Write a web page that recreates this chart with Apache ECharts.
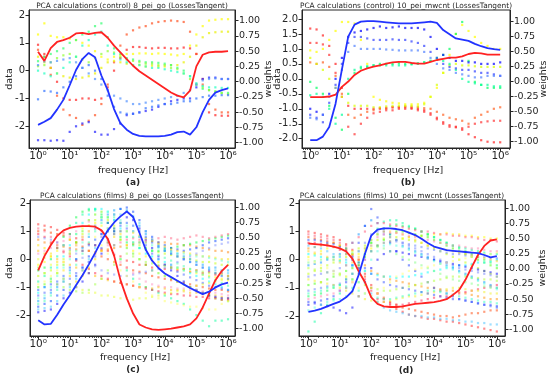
<!DOCTYPE html>
<html><head><meta charset="utf-8">
<script src="https://cdn.jsdelivr.net/npm/echarts@6/dist/echarts.min.js"></script>
<style>html,body{margin:0;padding:0;background:#fff}#c{width:550px;height:380px}</style>
</head><body><div id="c"></div>
<script>
// frequency grid as log10(f [Hz])
const FREQ_EXP = [0,0.2,0.4,0.6,0.8,1,1.2,1.4,1.6,1.8,2,2.2,2.4,2.6,2.8,3,3.2,3.4,3.6,3.8,4,4.2,4.4,4.6,4.8,5,5.2,5.4,5.6,5.8,6];
const X_TICKS = [0,1,2,3,4,5,6];
const SUP = ['⁰','¹','²','³','⁴','⁵','⁶'];
const DATA_TICKS_INT = [-2,-1,0,1,2];
const DATA_TICKS_HALF = [-2,-1.5,-1,-0.5,0,0.5,1,1.5,2];
const WEIGHT_TICKS = [-1,-0.75,-0.5,-0.25,0,0.25,0.5,0.75,1];
const TITLES = [
  'PCA calculations (control) 8_pei_go (LossesTangent)',
  'PCA calculations (control) 10_pei_mwcnt (LossesTangent)',
  'PCA calculations (films) 8_pei_go (LossesTangent)',
  'PCA calculations (films) 10_pei_mwcnt (LossesTangent)'
];
const PANEL_TAGS = ['(a)','(b)','(c)','(d)'];

// weights (right axis): red and blue lines
const A_RED  = [0.49,0.34,0.55,0.65,0.68,0.72,0.79,0.80,0.78,0.80,0.81,0.72,0.59,0.48,0.37,0.26,0.17,0.10,0.03,-0.04,-0.11,-0.18,-0.23,-0.26,-0.15,0.25,0.44,0.48,0.49,0.49,0.50];
const A_BLUE = [-0.71,-0.66,-0.60,-0.46,-0.30,-0.06,0.19,0.37,0.47,0.40,0.10,-0.14,-0.45,-0.68,-0.79,-0.86,-0.89,-0.90,-0.90,-0.90,-0.89,-0.87,-0.83,-0.82,-0.87,-0.75,-0.50,-0.30,-0.18,-0.14,-0.11];
const B_RED  = [-0.26,-0.26,-0.26,-0.25,-0.22,-0.09,0.0,0.11,0.18,0.22,0.25,0.27,0.30,0.32,0.33,0.33,0.31,0.30,0.30,0.33,0.36,0.38,0.40,0.40,0.42,0.46,0.48,0.47,0.45,0.45,0.45];
const B_BLUE = [-0.98,-0.98,-0.92,-0.76,-0.37,0.20,0.75,0.95,1.00,1.01,1.01,1.00,0.99,0.98,0.97,0.97,0.97,0.98,0.99,1.00,0.98,0.86,0.79,0.72,0.70,0.68,0.63,0.59,0.56,0.54,0.53];
const C_RED  = [-0.04,0.20,0.38,0.53,0.62,0.66,0.68,0.69,0.69,0.68,0.62,0.48,0.20,-0.20,-0.50,-0.75,-0.93,-0.98,-1.01,-1.02,-1.01,-1.00,-0.98,-0.96,-0.93,-0.83,-0.65,-0.42,-0.20,-0.05,0.05];
const C_BLUE = [-0.86,-0.93,-0.92,-0.77,-0.60,-0.45,-0.28,-0.12,0.06,0.25,0.45,0.62,0.75,0.85,0.93,0.84,0.58,0.30,0.12,0.00,-0.09,-0.15,-0.21,-0.27,-0.33,-0.38,-0.43,-0.39,-0.32,-0.27,-0.24];
const D_RED  = [0.42,0.41,0.40,0.39,0.37,0.34,0.29,0.17,-0.04,-0.22,-0.47,-0.58,-0.62,-0.63,-0.63,-0.62,-0.60,-0.58,-0.57,-0.56,-0.55,-0.53,-0.50,-0.43,-0.35,-0.18,0.03,0.23,0.38,0.47,0.49];
const D_BLUE = [-0.71,-0.69,-0.66,-0.62,-0.58,-0.54,-0.47,-0.37,-0.10,0.25,0.55,0.65,0.67,0.67,0.66,0.64,0.60,0.56,0.50,0.43,0.37,0.34,0.31,0.30,0.29,0.28,0.27,0.26,0.23,0.19,0.21];

// data (left axis): scatter rows
const A_PT_COLORS = ['#ff2020','#ff5020','#ffff00','#e8f000','#30ff70','#90ff30','#20ffc0','#2020ff','#3070ff','#5090ff'];
const A_PTS = [
 [0.93,0.6,0.1,-0.4,-1.0,-1.05,-1.05,-1.0,-1.0,-1.05,-1.0,-0.6,0.0,0.45,0.75,0.85,0.85,0.82,0.8,0.82,0.82,0.8,0.8,0.83,0.8,0.6,-0.3,-1.5,-1.6,-1.62,-1.62],
 [0.75,0.5,-0.15,-0.9,-1.4,-1.6,-1.7,-1.95,-1.8,-1.6,-1.2,-0.5,0.3,0.9,1.3,1.45,1.55,1.6,1.7,1.75,1.78,1.8,1.78,1.75,1.4,0.6,-0.5,-1.2,-1.4,-1.5,-1.5],
 [1.3,1.7,1.25,1.2,1.2,1.15,1.1,1.0,0.9,0.7,0.5,0.4,0.5,0.55,0.6,0.6,0.62,0.62,0.6,0.62,0.6,0.58,0.55,0.6,0.9,1.3,1.6,1.8,1.83,1.85,1.85],
 [0.5,0.3,0.1,-0.1,-0.2,-0.25,-0.3,-0.25,-0.2,-0.1,0.1,0.3,0.35,0.3,0.25,0.2,0.2,0.15,0.18,0.15,0.15,0.2,0.2,0.3,0.5,0.9,1.2,1.35,1.38,1.4,1.4],
 [0.34,0.5,0.6,0.7,0.8,1.0,1.1,1.3,1.4,1.6,1.7,1.2,0.8,0.6,0.45,0.4,0.35,0.3,0.3,0.28,0.25,0.2,0.1,0.0,-0.2,-0.5,-0.65,-0.7,-0.75,-0.8,-0.8],
 [0.16,0.2,0.3,0.45,0.55,0.6,0.5,0.4,0.3,0.45,0.6,0.7,0.65,0.5,0.4,0.35,0.3,0.25,0.25,0.2,0.2,0.1,0.05,-0.1,-0.3,-0.5,-0.6,-0.7,-0.75,-0.8,-0.85],
 [0.0,-0.1,-0.2,-0.1,0.1,0.3,0.5,0.9,1.1,1.3,1.4,0.9,0.6,0.4,0.3,0.2,0.2,0.15,0.1,0.1,0.05,0.0,-0.05,-0.1,-0.2,-0.45,-0.55,-0.6,-0.6,-0.62,-0.62],
 [-2.5,-2.5,-2.52,-2.5,-2.52,-2.2,-2.0,-1.9,-1.85,-2.2,-2.3,-2.3,-2.1,-1.9,-1.6,-1.55,-1.5,-1.45,-1.4,-1.3,-1.2,-1.1,-1.05,-1.0,-1.0,-0.6,-0.3,-0.25,-0.25,-0.3,-0.3],
 [-1.03,-0.73,-0.75,-0.8,-0.6,-0.4,-0.2,0.1,0.2,0.0,-0.3,-0.9,-1.3,-1.5,-1.55,-1.55,-1.5,-1.35,-1.3,-1.25,-1.2,-1.2,-1.15,-1.1,-1.1,-1.0,-0.95,-0.9,-0.9,-0.88,-0.88],
 [0.2,0.33,0.3,0.35,0.4,0.45,0.3,0.1,-0.1,-0.3,-0.5,-0.7,-0.9,-1.0,-1.1,-1.2,-1.2,-1.15,-1.1,-1.05,-1.0,-0.95,-0.9,-0.8,-0.7,-0.5,-0.35,-0.3,-0.28,-0.3,-0.3]
];
const B_PT_COLORS = ['#ff2020','#ff3030','#ff6020','#ffff00','#d8ff00','#00ff60','#00ff99','#0000ff','#3040ff','#5080ff'];
const B_PTS = [
 [1.68,1.65,1.45,1.1,0.5,-0.3,-0.9,-1.0,-1.0,-1.0,-1.0,-0.98,-0.97,-0.95,-0.95,-0.95,-0.97,-1.0,-1.05,-1.15,-1.3,-1.45,-1.55,-1.6,-1.7,-1.85,-1.95,-2.05,-2.1,-2.12,-2.12],
 [1.2,1.2,1.15,0.8,0.2,-0.6,-1.6,-1.85,-1.5,-1.3,-1.15,-1.1,-1.05,-1.05,-1.0,-1.0,-1.0,-1.05,-1.1,-1.2,-1.35,-1.5,-1.6,-1.62,-1.65,-1.6,-1.5,-1.45,-1.42,-1.4,-1.4],
 [0.55,0.5,0.55,0.4,0.1,-0.5,-1.2,-1.3,-1.2,-1.1,-1.05,-1.0,-1.0,-0.95,-0.95,-0.92,-0.93,-0.95,-0.98,-1.0,-1.1,-1.2,-1.3,-1.35,-1.4,-1.5,-1.3,-1.2,-1.1,-1.0,-0.95],
 [0.95,0.9,1.0,1.3,1.6,1.9,1.9,1.85,1.3,0.5,-0.6,-0.7,-0.75,-0.8,-0.82,-0.85,-0.85,-0.85,-0.8,-0.6,-0.3,0.2,0.8,1.5,1.8,1.6,1.4,1.2,1.1,1.0,1.0],
 [0.7,0.5,0.3,0.0,-0.3,-0.6,-0.8,-0.9,-0.9,-0.9,-0.95,-0.95,-0.92,-0.9,-0.9,-0.9,-0.9,-0.92,-0.85,-0.6,-0.2,0.2,0.45,0.5,0.45,0.45,0.42,0.4,0.4,0.4,0.4],
 [-0.1,-0.3,-0.5,-0.9,-1.3,-1.7,-0.5,0.2,0.35,0.4,0.45,0.5,0.5,0.5,0.52,0.5,0.5,0.52,0.55,0.6,0.7,0.8,1.0,1.5,1.9,0.6,-0.1,-0.2,-0.3,-0.3,-0.3],
 [-0.55,-0.5,-0.6,-1.0,-1.5,-1.2,0.0,0.3,0.4,0.42,0.45,0.45,0.45,0.45,0.45,0.45,0.48,0.5,0.55,0.6,0.65,0.6,0.5,0.3,0.0,-0.1,-0.15,-0.2,-0.2,-0.25,-0.25],
 [-1.0,-1.1,-1.2,-0.5,0.0,0.7,1.4,1.55,1.6,1.65,1.7,1.75,1.7,1.72,1.75,1.7,1.7,1.7,1.65,1.4,1.0,0.8,0.7,0.6,0.6,0.55,0.55,0.5,0.5,0.5,0.55],
 [-1.2,-1.3,-1.45,-0.8,-0.2,0.5,1.2,1.4,1.4,1.35,1.3,1.3,1.3,1.32,1.3,1.3,1.25,1.2,1.1,0.9,0.7,0.5,0.4,0.35,0.3,0.3,0.25,0.2,0.2,0.15,0.1],
 [-1.3,-1.35,-1.2,-0.6,-0.3,0.3,0.9,1.1,1.0,1.0,1.0,1.0,0.98,0.97,0.95,0.95,0.95,0.95,0.9,0.7,0.5,0.35,0.3,0.2,0.15,0.1,0.05,0.05,0.1,0.1,0.1]
];
const C_PT_COLORS = ['#ff2020','#ff4000','#ff8000','#ffc000','#ffff00','#c0ff00','#60ff00','#00ff40','#00ff99','#00ffff','#00a0ff','#0040ff','#0000ff','#4060ff','#ff2040','#e8ff30',
                     '#ff6080','#ffe000','#a0ff40','#40ffb0','#40d0ff','#8090ff','#ff90c0','#ffff60','#60ffd0','#2060ff'];
const C_PTS = [
 [1.25,1.2,1.15,1.05,0.95,0.9,0.75,0.7,0.55,0.5,0.35,0.3,0.15,0.1,-0.05,-0.1,-0.2,-0.2,-0.3,-0.25,-0.35,-0.3,-0.4,-0.35,-0.45,-0.4,-0.5,-0.45,-0.55,-0.5,-0.6],
 [1.0,1.05,0.95,0.9,0.85,0.7,0.6,0.45,0.3,0.2,0.1,0.0,-0.1,-0.2,-0.3,-0.4,-0.45,-0.5,-0.6,-0.65,-0.7,-0.75,-0.8,-0.85,-0.9,-0.95,-1.0,-1.05,-1.1,-1.1,-1.15],
 [0.7,0.6,0.55,0.5,0.45,0.4,0.35,0.3,0.3,0.25,0.3,0.35,0.4,0.45,0.5,0.55,0.6,0.6,0.65,0.6,0.6,0.55,0.55,0.5,0.5,0.45,0.4,0.35,0.3,0.3,0.25],
 [0.3,0.2,0.1,0.0,-0.1,-0.2,-0.3,-0.4,-0.5,-0.6,-0.7,-0.75,-0.8,-0.85,-0.9,-0.95,-1.0,-1.0,-1.05,-1.0,-1.05,-1.1,-1.1,-1.15,-1.2,-1.2,-1.25,-1.3,-1.3,-1.35,-1.4],
 [-0.2,-0.1,0.1,0.3,0.5,0.7,0.9,1.1,1.2,1.3,1.2,1.1,0.9,0.7,0.5,0.3,0.2,0.1,0.0,-0.1,-0.2,-0.3,-0.35,-0.4,-0.45,-0.5,-0.55,-0.6,-0.65,-0.7,-0.75],
 [-0.6,-0.5,-0.4,-0.2,0.0,0.3,0.6,0.9,1.2,1.4,1.5,1.4,1.2,1.0,0.8,0.6,0.5,0.4,0.3,0.25,0.2,0.15,0.1,0.05,0.0,-0.05,-0.1,-0.1,-0.15,-0.2,-0.2],
 [-1.0,-0.9,-0.8,-0.5,-0.2,0.2,0.6,1.0,1.4,1.6,1.7,1.5,1.1,0.7,0.4,0.2,0.0,-0.2,-0.4,-0.5,-0.6,-0.7,-0.8,-0.9,-1.0,-1.1,-1.2,-1.3,-1.4,-1.45,-1.5],
 [-0.4,-0.3,0.0,0.4,0.8,1.2,1.5,1.7,1.75,1.8,1.6,1.3,1.0,0.8,0.6,0.5,0.4,0.35,0.3,0.3,0.35,0.4,0.45,0.5,0.55,0.6,0.65,0.7,0.75,0.8,0.85],
 [-0.8,-0.6,-0.3,0.1,0.5,0.9,1.3,1.6,1.8,1.75,1.5,1.0,0.5,0.0,-0.4,-0.7,-0.9,-1.0,-1.1,-1.2,-1.3,-1.4,-1.5,-1.6,-1.8,-2.0,-2.2,-2.4,-2.2,-2.2,-2.15],
 [-1.2,-1.0,-0.7,-0.3,0.1,0.5,0.9,1.3,1.6,1.8,1.8,1.7,1.4,1.1,0.8,0.6,0.4,0.2,0.1,0.0,-0.1,-0.2,-0.3,-0.4,-0.5,-0.6,-0.7,-0.8,-0.9,-1.0,-1.1],
 [-1.5,-1.4,-1.2,-1.0,-0.7,-0.4,0.0,0.4,0.8,1.1,1.4,1.6,1.75,1.8,1.75,1.5,1.2,0.9,0.7,0.5,0.4,0.3,0.2,0.1,0.0,-0.1,-0.2,-0.3,-0.3,-0.4,-0.4],
 [-1.7,-1.6,-1.5,-1.3,-1.1,-0.9,-0.6,-0.3,0.1,0.5,0.9,1.3,1.6,1.8,1.85,1.7,1.4,1.0,0.8,0.6,0.5,0.4,0.35,0.3,0.35,0.4,0.5,0.6,0.65,0.7,0.75],
 [-1.9,-1.85,-1.8,-1.6,-1.4,-1.2,-1.0,-0.8,-0.5,-0.2,0.2,0.6,1.0,1.3,1.5,1.4,1.1,0.7,0.4,0.1,-0.2,-0.4,-0.6,-0.8,-1.0,-1.1,-1.2,-1.3,-1.35,-1.4,-1.4],
 [-1.3,-1.2,-1.1,-0.9,-0.8,-0.7,-0.5,-0.3,-0.1,0.1,0.4,0.7,0.9,1.0,1.1,1.0,0.8,0.5,0.2,0.0,-0.2,-0.3,-0.45,-0.55,-0.65,-0.75,-0.85,-0.95,-1.0,-1.05,-1.1],
 [0.9,0.8,0.6,0.4,0.25,0.1,-0.05,-0.2,-0.35,-0.5,-0.6,-0.7,-0.8,-0.85,-0.9,-0.95,-1.0,-1.05,-1.1,-1.15,-1.2,-1.25,-1.25,-1.3,-1.3,-1.35,-1.35,-1.4,-1.4,-1.45,-1.45],
 [0.0,0.05,-0.2,-0.5,-0.7,-0.9,-1.0,-1.1,-1.2,-1.2,-1.3,-1.3,-1.35,-1.4,-1.4,-1.45,-1.4,-1.4,-1.35,-1.3,-1.25,-1.2,-1.15,-1.1,-1.0,-0.95,-0.9,-0.85,-0.8,-0.75,-0.7],
 [1.1,1.0,0.8,0.6,0.3,0.2,0.5,0.8,1.0,1.2,1.0,0.7,0.5,0.6,0.7,0.75,0.7,0.65,0.7,0.75,0.8,0.75,0.7,0.75,0.8,0.85,0.8,0.75,0.8,0.85,0.9],
 [0.5,0.4,0.2,-0.1,-0.4,-0.6,-0.8,-0.6,-0.3,0.0,0.3,0.6,0.8,0.9,1.0,0.95,0.85,0.75,0.65,0.55,0.45,0.35,0.3,0.25,0.2,0.15,0.1,0.1,0.05,0.0,0.0],
 [-0.3,-0.5,-0.7,-0.9,-1.0,-1.1,-1.15,-1.2,-1.1,-0.9,-0.7,-0.4,-0.2,0.0,0.2,0.1,0.0,-0.1,-0.15,-0.2,-0.25,-0.3,-0.3,-0.35,-0.35,-0.4,-0.45,-0.5,-0.5,-0.55,-0.6],
 [-1.6,-1.5,-1.3,-1.1,-0.8,-0.5,-0.2,0.2,0.6,1.0,1.3,1.5,1.5,1.3,1.0,0.8,0.6,0.4,0.3,0.15,0.05,-0.05,-0.15,-0.25,-0.35,-0.45,-0.55,-0.65,-0.75,-0.85,-0.95],
 [-1.8,-1.75,-1.7,-1.5,-1.3,-1.0,-0.7,-0.4,0.0,0.4,0.8,1.1,1.4,1.6,1.7,1.55,1.3,1.0,0.7,0.45,0.3,0.2,0.1,0.0,-0.1,-0.2,-0.3,-0.35,-0.4,-0.45,-0.5],
 [0.8,0.75,0.7,0.6,0.5,0.35,0.2,0.05,-0.1,-0.25,-0.4,-0.5,-0.55,-0.6,-0.6,-0.55,-0.5,-0.45,-0.4,-0.35,-0.3,-0.2,-0.1,0.0,0.1,0.2,0.3,0.4,0.5,0.55,0.6],
 [0.2,0.3,0.4,0.5,0.65,0.8,1.0,1.2,1.35,1.1,0.8,0.5,0.2,-0.1,-0.3,-0.5,-0.7,-0.8,-0.9,-0.95,-1.0,-1.0,-1.05,-1.05,-1.1,-1.1,-1.15,-1.2,-1.2,-1.25,-1.3],
 [-0.9,-0.8,-0.6,-0.4,-0.1,0.2,0.5,0.8,1.0,0.8,0.5,0.2,-0.1,-0.4,-0.6,-0.8,-1.0,-1.2,-1.3,-1.4,-1.5,-1.55,-1.6,-1.65,-1.7,-1.7,-1.75,-1.8,-1.8,-1.6,-1.5],
 [-1.4,-1.3,-1.0,-0.6,-0.3,0.0,0.3,0.6,0.9,1.2,1.5,1.7,1.6,1.4,1.2,1.0,0.8,0.6,0.5,0.4,0.3,0.25,0.2,0.2,0.15,0.1,0.1,0.05,0.0,-0.05,-0.1],
 [-1.1,-1.0,-0.9,-0.8,-0.6,-0.3,0.0,0.3,0.5,0.7,0.9,1.0,1.1,1.2,1.3,1.2,1.0,0.8,0.6,0.45,0.3,0.2,0.1,0.0,-0.1,-0.2,-0.3,-0.4,-0.5,-0.6,-0.7]
];
const D_PT_COLORS = ['#ff2020','#ff4000','#ff9000','#ffff00','#c0ff00','#40ff00','#00ff50','#00ffa0','#00ffff','#0090ff','#2040ff','#0000ff','#ff2050','#6080ff','#f0f020','#80ff80',
                     '#ff5070','#ffd020','#b0ff30','#30ffc0','#40c0ff','#7080ff','#ff80b0','#ffff70','#50ffe0','#3050ff'];
const D_PTS = [
 [1.0,0.95,0.9,0.85,0.8,0.7,0.55,0.35,0.0,-0.5,-0.9,-1.2,-1.4,-1.6,-1.75,-1.85,-1.95,-2.0,-2.05,-2.1,-2.1,-2.15,-2.2,-2.2,-2.25,-2.3,-2.35,-2.4,-2.45,-2.5,-2.55],
 [0.8,0.75,0.7,0.65,0.6,0.5,0.35,0.15,-0.2,-0.6,-1.0,-1.2,-1.35,-1.5,-1.6,-1.7,-1.75,-1.8,-1.85,-1.9,-1.95,-2.0,-2.0,-2.05,-2.0,-1.95,-1.9,-1.9,-1.85,-1.8,-1.8],
 [0.4,0.45,0.5,0.55,0.6,0.5,0.4,0.2,0.0,-0.2,-0.4,-0.5,-0.6,-0.7,-0.75,-0.8,-0.85,-0.9,-0.95,-1.0,-1.0,-1.05,-1.1,-1.1,-1.15,-1.2,-1.25,-1.3,-1.35,-1.4,-1.4],
 [0.1,0.2,0.3,0.4,0.45,0.5,0.4,0.3,0.2,0.3,0.4,0.5,0.6,0.65,0.7,0.75,0.8,0.85,0.85,0.9,0.9,0.9,0.95,0.9,0.9,0.85,0.85,0.8,0.8,0.75,0.75],
 [-0.5,-0.4,-0.3,-0.2,-0.1,0.0,0.1,0.2,0.4,0.5,0.6,0.7,0.75,0.8,0.8,0.75,0.7,0.65,0.6,0.5,0.4,0.3,0.2,0.1,0.0,-0.1,-0.2,-0.3,-0.4,-0.5,-0.6],
 [-0.9,-0.85,-0.8,-0.7,-0.6,-0.5,-0.4,-0.3,-0.1,0.1,0.3,0.5,0.7,0.9,1.0,1.0,0.95,0.9,0.85,0.8,0.7,0.6,0.5,0.4,0.3,0.2,0.1,0.0,-0.1,-0.2,-0.3],
 [-1.3,-1.25,-1.2,-1.1,-1.0,-0.9,-0.7,-0.5,-0.2,0.2,0.6,0.9,1.1,1.2,1.25,1.2,1.15,1.1,1.0,0.9,0.8,0.7,0.6,0.5,0.4,0.3,0.2,0.1,0.0,-0.1,-0.2],
 [-2.55,-2.2,-1.9,-1.6,-1.4,-1.2,-1.0,-0.7,-0.3,0.2,0.7,1.1,1.35,1.4,1.4,1.3,1.2,1.1,1.0,0.9,0.8,0.7,0.6,0.5,0.45,0.4,0.35,0.3,0.25,0.2,0.2],
 [0.2,0.15,0.1,0.05,0.0,-0.05,-0.1,-0.2,-0.3,-0.4,-0.5,-0.55,-0.6,-0.6,-0.65,-0.6,-0.6,-0.55,-0.5,-0.45,-0.4,-0.35,-0.3,-0.25,-0.2,-0.2,-0.15,-0.1,-0.1,-0.05,0.0],
 [-0.2,-0.15,-0.1,0.0,0.1,0.2,0.4,0.6,0.9,1.2,1.4,1.3,1.1,0.9,0.7,0.5,0.4,0.3,0.2,0.1,0.0,-0.1,-0.2,-0.3,-0.4,-0.5,-0.6,-0.7,-0.8,-0.9,-1.0],
 [-1.5,-1.5,-1.45,-1.4,-1.3,-1.1,-0.8,-0.2,0.6,1.2,1.8,1.5,1.0,0.6,0.3,0.0,-0.2,-0.4,-0.6,-0.8,-1.0,-1.1,-1.2,-1.3,-1.4,-1.45,-1.5,-1.55,-1.6,-1.6,-1.65],
 [-1.6,-1.55,-1.6,-1.65,-1.7,-1.8,-1.9,-1.7,-1.3,-0.8,-0.3,0.0,0.2,0.3,0.3,0.25,0.2,0.15,0.1,0.05,0.0,-0.05,-0.1,-0.15,-0.2,-0.25,-0.3,-0.35,-0.4,-0.45,-0.5],
 [0.6,0.6,0.55,0.5,0.45,0.35,0.2,0.0,-0.3,-0.7,-1.1,-1.4,-1.5,-1.55,-1.6,-1.6,-1.55,-1.5,-1.45,-1.4,-1.35,-1.3,-1.3,-1.25,-1.2,-1.15,-1.1,-1.05,-1.0,-0.95,-0.9],
 [-1.1,-1.05,-1.0,-0.95,-0.9,-0.85,-0.7,-0.5,-0.3,0.0,0.3,0.5,0.6,0.65,0.65,0.6,0.55,0.5,0.45,0.4,0.35,0.3,0.25,0.2,0.2,0.15,0.15,0.1,0.1,0.05,0.05],
 [-0.7,-0.75,-0.8,-0.85,-0.9,-1.0,-1.1,-1.2,-1.3,-1.4,-1.45,-1.5,-1.5,-1.45,-1.4,-1.35,-1.3,-1.3,-1.25,-1.2,-1.15,-1.1,-1.05,-1.0,-1.0,-1.05,-1.1,-1.1,-1.15,-1.2,-1.2],
 [-0.1,-0.05,0.0,0.05,0.1,0.15,0.2,0.25,0.3,0.4,0.5,0.45,0.4,0.3,0.2,0.1,0.0,-0.1,-0.2,-0.3,-0.4,-0.5,-0.6,-0.7,-0.75,-0.8,-0.85,-0.9,-0.95,-1.0,-1.0],
 [0.9,0.85,0.8,0.75,0.7,0.6,0.5,0.6,0.8,1.0,1.2,1.3,1.3,1.25,1.2,1.15,1.1,1.05,1.0,1.0,0.95,0.9,0.9,0.85,0.85,0.8,0.8,0.75,0.7,0.7,0.65],
 [0.3,0.25,0.2,0.1,0.0,-0.1,-0.2,-0.1,0.1,0.4,0.7,0.9,1.0,1.0,0.95,0.9,0.8,0.7,0.6,0.5,0.45,0.4,0.35,0.3,0.25,0.2,0.15,0.1,0.05,0.0,-0.05],
 [-0.3,-0.35,-0.4,-0.45,-0.5,-0.55,-0.6,-0.7,-0.8,-0.9,-1.0,-1.05,-1.1,-1.1,-1.05,-1.0,-0.95,-0.9,-0.85,-0.8,-0.75,-0.7,-0.65,-0.6,-0.6,-0.6,-0.65,-0.65,-0.7,-0.7,-0.75],
 [-1.2,-1.15,-1.1,-1.0,-0.95,-0.9,-0.95,-1.0,-1.1,-1.2,-1.3,-1.35,-1.4,-1.4,-1.35,-1.3,-1.25,-1.2,-1.15,-1.1,-1.1,-1.15,-1.2,-1.25,-1.3,-1.35,-1.4,-1.45,-1.5,-1.5,-1.55],
 [0.5,0.45,0.4,0.3,0.2,0.1,0.0,-0.2,-0.5,-0.8,-1.2,-1.5,-1.7,-1.8,-1.85,-1.9,-1.95,-2.0,-2.0,-2.05,-2.05,-2.1,-2.1,-2.15,-2.15,-2.2,-2.2,-2.25,-2.25,-2.3,-2.3],
 [-0.6,-0.55,-0.5,-0.45,-0.4,-0.3,-0.2,0.0,0.3,0.6,0.9,1.0,0.9,0.8,0.7,0.6,0.5,0.4,0.3,0.2,0.1,0.0,-0.1,-0.2,-0.3,-0.35,-0.4,-0.45,-0.5,-0.55,-0.6],
 [-1.4,-1.35,-1.3,-1.25,-1.2,-1.1,-1.0,-0.8,-0.5,0.0,0.5,0.8,0.9,0.95,0.95,0.9,0.85,0.8,0.75,0.7,0.65,0.6,0.55,0.5,0.5,0.45,0.4,0.4,0.35,0.3,0.3],
 [0.0,-0.1,-0.2,-0.3,-0.4,-0.5,-0.6,-0.8,-1.0,-1.2,-1.3,-1.2,-1.0,-0.8,-0.6,-0.5,-0.4,-0.35,-0.3,-0.25,-0.2,-0.15,-0.1,-0.05,0.0,0.05,0.1,0.15,0.2,0.2,0.25],
 [-1.8,-1.7,-1.6,-1.5,-1.45,-1.4,-1.3,-1.1,-0.8,-0.4,0.0,0.3,0.5,0.55,0.5,0.45,0.35,0.25,0.15,0.05,-0.05,-0.15,-0.25,-0.35,-0.45,-0.55,-0.65,-0.75,-0.85,-0.95,-1.05],
 [0.7,0.7,0.65,0.6,0.55,0.45,0.3,0.1,-0.1,-0.3,-0.5,-0.7,-0.8,-0.9,-0.95,-1.0,-1.05,-1.1,-1.15,-1.2,-1.25,-1.3,-1.35,-1.4,-1.4,-1.45,-1.5,-1.55,-1.6,-1.65,-1.7]
];

const FONT = 'DejaVu Sans';
const INK = '#262626';
const panels = [
  {grid:{left:29,top:10,width:206,height:138}, x:[-0.285,6.22], yl:[-2.78,2.18], yr:[-1.09,1.175], dticks:DATA_TICKS_INT, dfmt:v=>String(v),
   red:A_RED, blue:A_BLUE, pts:A_PTS, cols:A_PT_COLORS, op:0.7, title:[132,6], name:[133,171], tag:[133,182.5], dataLbl:[10,79], wLbl:[269,79]},
  {grid:{left:302,top:10,width:208,height:138}, x:[-0.26,6.31], yl:[-2.31,2.3], yr:[-1.11,1.195], dticks:DATA_TICKS_HALF, dfmt:v=>v.toFixed(1),
   red:B_RED, blue:B_BLUE, pts:B_PTS, cols:B_PT_COLORS, op:0.7, title:[406,6], name:[408,171], tag:[408,182.5], dataLbl:[278,79], wLbl:[544,79]},
  {grid:{left:30,top:200,width:205,height:136}, x:[-0.26,6.22], yl:[-2.75,2.12], yr:[-1.12,1.12], dticks:DATA_TICKS_INT, dfmt:v=>String(v),
   red:C_RED, blue:C_BLUE, pts:C_PTS, cols:C_PT_COLORS, op:0.5, title:[132,196], name:[135,358], tag:[133,370], dataLbl:[10,268], wLbl:[269,268]},
  {grid:{left:299,top:200,width:206,height:136}, x:[-0.3,6.26], yl:[-2.71,2.12], yr:[-1.11,1.14], dticks:DATA_TICKS_INT, dfmt:v=>String(v),
   red:D_RED, blue:D_BLUE, pts:D_PTS, cols:D_PT_COLORS, op:0.5, title:[402,196], name:[405,358], tag:[406,371], dataLbl:[279,268], wLbl:[543,268]}
];

const minor = [];
for (let d = -1; d <= 6; d++) for (let m = 2; m <= 9; m++) minor.push(d + Math.log10(m));

const grids = [], xAxes = [], yAxes = [], series = [], graphics = [];
const axLine = {show:true, onZero:false, lineStyle:{color:INK, width:1}};
const lbl = {fontFamily:FONT, fontSize:10, color:INK};
panels.forEach((p, i) => {
  grids.push(Object.assign({show:true, borderColor:INK, borderWidth:1, backgroundColor:'#fff'}, p.grid));
  const minorVals = minor.filter(v => v > p.x[0] && v < p.x[1]);
  xAxes.push({type:'value', gridIndex:i, position:'bottom', min:p.x[0], max:p.x[1],
    axisLine:axLine, splitLine:{show:false},
    axisTick:{show:true, customValues:X_TICKS, length:3.5, lineStyle:{color:INK}},
    axisLabel:Object.assign({}, lbl, {customValues:X_TICKS, margin:3, formatter:v=>'10'+SUP[Math.round(v)], fontSize:10.5})});
  xAxes.push({type:'value', gridIndex:i, position:'bottom', min:p.x[0], max:p.x[1],
    axisLine:{show:false, onZero:false}, splitLine:{show:false}, axisLabel:{show:false},
    axisTick:{show:true, customValues:minorVals, length:2, lineStyle:{color:INK, width:0.8}}});
  yAxes.push({type:'value', gridIndex:i, position:'left', min:p.yl[0], max:p.yl[1],
    axisLine:axLine, splitLine:{show:false},
    axisTick:{show:true, customValues:p.dticks, length:3.5, lineStyle:{color:INK}},
    axisLabel:Object.assign({}, lbl, {customValues:p.dticks, margin:4, formatter:p.dfmt})});
  yAxes.push({type:'value', gridIndex:i, position:'right', min:p.yr[0], max:p.yr[1],
    axisLine:axLine, splitLine:{show:false},
    axisTick:{show:true, customValues:WEIGHT_TICKS, length:3.5, lineStyle:{color:INK}},
    axisLabel:Object.assign({}, lbl, {customValues:WEIGHT_TICKS, margin:4, fontSize:9.5, formatter:v=>v.toFixed(2)})});
  p.pts.forEach((row, r) => {
    series.push({type:'scatter', xAxisIndex:2*i, yAxisIndex:2*i, symbol:'rect', symbolSize:2.2, silent:true, z:2,
      itemStyle:{color:p.cols[r], opacity:p.op},
      data:FREQ_EXP.map((x, k) => [x, row[k]])});
  });
  [[p.red,'#ff2222'],[p.blue,'#2233ff']].forEach(([vals, col]) => {
    series.push({type:'line', xAxisIndex:2*i, yAxisIndex:2*i+1, showSymbol:false, silent:true, z:5,
      lineStyle:{color:col, width:1.8}, data:FREQ_EXP.map((x, k) => [x, vals[k]])});
  });
  const txt = (t, pos, font, rot) => graphics.push({type:'text', x:pos[0], y:pos[1], rotation:rot||0, silent:true,
    style:{text:t, fill:INK, font:font, textAlign:'center', textVerticalAlign:'middle'}});
  txt(TITLES[i], p.title, '7.4px "'+FONT+'"');
  txt('frequency [Hz]', p.name, '9.5px "'+FONT+'"');
  txt(PANEL_TAGS[i], p.tag, 'bold 9px "'+FONT+'"');
  txt('data', p.dataLbl, '9.5px "'+FONT+'"', Math.PI/2);
  txt('weights', p.wLbl, '9.5px "'+FONT+'"', Math.PI/2);
});

const chart = echarts.init(document.getElementById('c'), null, {renderer:'canvas'});
chart.setOption({animation:false, backgroundColor:'#fff', grid:grids, xAxis:xAxes, yAxis:yAxes, series:series, graphic:graphics});
</script>
</body></html>
